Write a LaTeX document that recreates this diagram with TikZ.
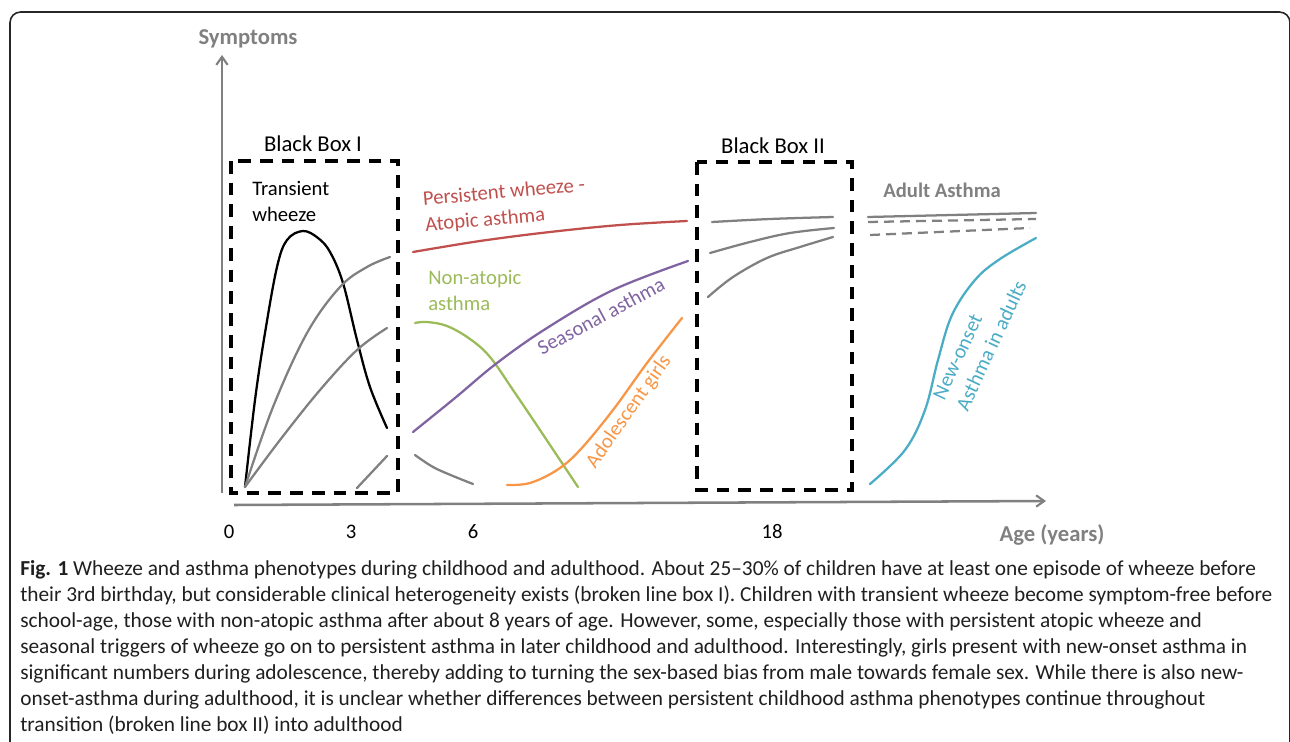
\documentclass[tikz,border=0pt]{standalone}
\usepackage{fontspec}
\setmainfont{Carlito}
\usetikzlibrary{arrows.meta}

\definecolor{axisgray}{HTML}{808080}
\definecolor{persred}{HTML}{C0504D}
\definecolor{nonatgreen}{HTML}{9BBB59}
\definecolor{seaspurple}{HTML}{8064A2}
\definecolor{adolorange}{HTML}{F79646}
\definecolor{adultcyan}{HTML}{4BACC6}

\begin{document}
\begin{tikzpicture}[x=0.75pt,y=-0.75pt]
\tikzset{axis/.style = {draw=axisgray,line width=1.9pt,-{Straight Barb[length=6pt,width=8.5pt,line width=1.6pt]}}}
\tikzset{blackbox/.style = {draw=black,line width=2.6pt,dash pattern=on 9.5pt off 6.8pt}}
\tikzset{curve/.style = {line width=1.7pt,line cap=round}}
\tikzset{axistag/.style = {text=axisgray,font=\fontsize{17}{20}\selectfont\bfseries,inner sep=0pt}}
\tikzset{tag/.style = {font=\fontsize{15.5}{19.5}\selectfont,inner sep=0pt,align=left}}
\useasboundingbox (0,0) rectangle (1290,742);
% frame
\draw[line width=1.2pt,draw=black!85,rounded corners=8pt] (10,760) -- (10,12) -- (1290,12) -- (1290,760);
% axes
\coordinate (orig) at (222,493);
\coordinate (ytip) at (222,55);
\coordinate (xstart) at (234,505);
\coordinate (xtip) at (1046,501);
\draw[axis] (orig) -- (ytip);
\draw[axis] (xstart) -- (xtip);
\node[axistag] (symptoms) at (248,39) {Symptoms};
\node[axistag] (age) at (1052,535) {Age (years)};
\node[tag] (t0) at (229,532) {0};
\node[tag] (t3) at (351,532) {3};
\node[tag] (t6) at (473,532) {6};
\node[tag] (t18) at (772,532) {18};
% black boxes
\draw[blackbox] (231,161) rectangle (398,493);
\draw[blackbox] (697,162) rectangle (852,490);
\node[tag,font=\fontsize{17}{20}\selectfont] (boxI) at (313,144) {Black Box I};
\node[tag,font=\fontsize{17}{20}\selectfont] (boxII) at (773,146) {Black Box II};
% childhood curves
\draw[curve,black] plot[smooth,tension=0.6] coordinates {(245,487) (255,400) (265,333) (277,267) (287,240) (303,231) (318,238) (330,252) (343,283) (357,340) (370,387) (387,428)};
\draw[curve,axisgray] plot[smooth,tension=0.6] coordinates {(245,487) (273,407) (307,333) (340,287) (367,267) (390,257)};
\draw[curve,axisgray] plot[smooth,tension=0.6] coordinates {(245,487) (280,440) (320,390) (357,350) (387,328)};
\draw[curve,axisgray] (357,488) -- (387,456);
\draw[curve,axisgray] plot[smooth,tension=0.6] coordinates {(415,455) (433,467) (453,476) (473,484)};
\draw[curve,persred] plot[smooth,tension=0.6] coordinates {(413,252) (480,241) (550,232) (620,225) (687,221)};
\draw[curve,nonatgreen] plot[smooth,tension=0.6] coordinates {(415,323) (427,322) (447,326) (470,339) (490,357) (513,390) (540,430) (578,487)};
\draw[curve,seaspurple] plot[smooth,tension=0.6] coordinates {(413,432) (455,398) (497,363) (547,328) (613,290) (688,261)};
\draw[curve,adolorange] plot[smooth,tension=0.6] coordinates {(507,485) (530,483) (557,470) (580,450) (613,410) (647,363) (682,318)};
% transition curves
\draw[curve,axisgray] plot[smooth,tension=0.6] coordinates {(712,222) (770,219) (833,217)};
\draw[curve,axisgray] plot[smooth,tension=0.6] coordinates {(710,253) (750,242) (790,233) (834,228)};
\draw[curve,axisgray] plot[smooth,tension=0.6] coordinates {(708,297) (733,277) (767,258) (800,247) (833,237)};
% adult curves
\draw[curve,axisgray] (868,217) -- (1036,213);
\draw[curve,axisgray,line cap=butt,dash pattern=on 7.5pt off 4.5pt] (868,222) -- (1036,219);
\draw[curve,axisgray,line cap=butt,dash pattern=on 7.5pt off 4.5pt] (870,235) -- (1030,228);
\draw[curve,adultcyan] plot[smooth,tension=0.6] coordinates {(870,484) (905,450) (925,410) (938,360) (952,315) (975,280) (1000,259) (1036,238)};
% curve labels
\node[tag,anchor=west] (transient) at (252,201) {Transient\\wheeze};
\node[tag,anchor=west,text=persred,rotate=5] (persistent) at (424,213) {Persistent wheeze -\\Atopic asthma};
\node[tag,anchor=west,text=nonatgreen] (nonatopic) at (428,290) {Non-atopic\\asthma};
\node[tag,text=seaspurple,rotate=28] (seasonal) at (601,316) {Seasonal asthma};
\node[tag,text=adolorange,rotate=55] (girls) at (629,412) {Adolescent girls};
\node[tag,anchor=west,text=adultcyan,rotate=65] (newonset) at (950,404) {New-onset\\Asthma in adults};
\node[axistag,font=\fontsize{15.5}{19}\selectfont\bfseries] (adult) at (942,190) {Adult Asthma};
% caption
\node[anchor=north west,inner sep=0pt,align=left,text=black!88,font=\fontsize{16}{19.5}\selectfont] (caption) at (20,560) {\textbf{Fig. 1} Wheeze and asthma phenotypes during childhood and adulthood. About 25–30\% of children have at least one episode of wheeze before\\
their 3rd birthday, but considerable clinical heterogeneity exists (broken line box I). Children with transient wheeze become symptom-free before\\
school-age, those with non-atopic asthma after about 8 years of age. However, some, especially those with persistent atopic wheeze and\\
seasonal triggers of wheeze go on to persistent asthma in later childhood and adulthood. Interestingly, girls present with new-onset asthma in\\
significant numbers during adolescence, thereby adding to turning the sex-based bias from male towards female sex. While there is also new-\\
onset-asthma during adulthood, it is unclear whether differences between persistent childhood asthma phenotypes continue throughout\\
transition (broken line box II) into adulthood};
\end{tikzpicture}
\end{document}
